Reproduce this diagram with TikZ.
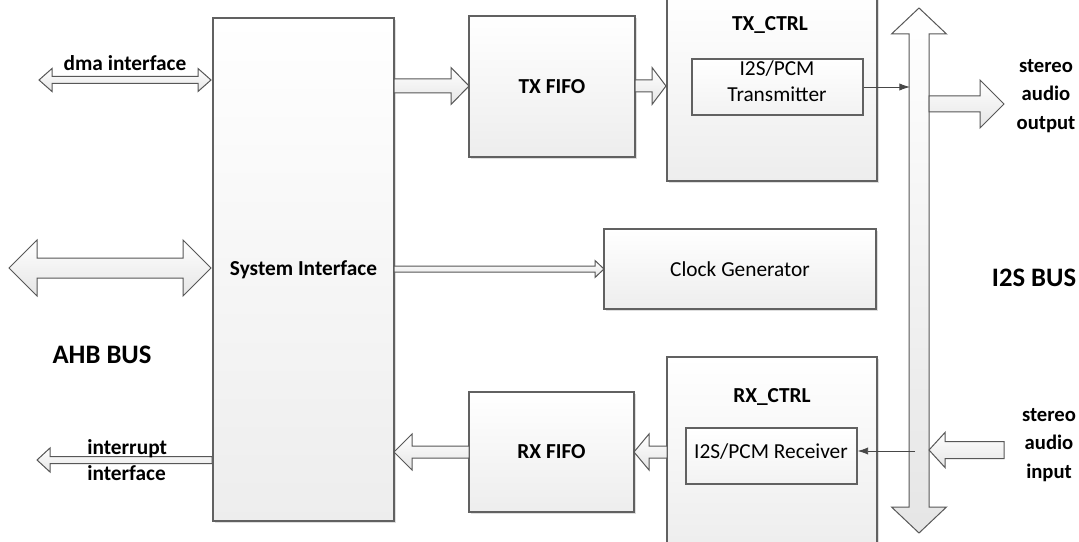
\documentclass[tikz,border=0pt]{standalone}
\usepackage{fontspec}
\setmainfont{Carlito}
\usetikzlibrary{fit,shadows,arrows.meta}
\newcommand{\BArrow}[6]{% tail x, tip x, y, shaft half, head half, head length (signed)
\draw[barrow] (#1,{#3-#4}) -- ({#2-(#6)},{#3-#4}) -- ({#2-(#6)},{#3-#5}) -- (#2,#3) -- ({#2-(#6)},{#3+#5}) -- ({#2-(#6)},{#3+#4}) -- (#1,{#3+#4}) -- cycle;}
\newcommand{\BDArrow}[6]{% left tip x, right tip x, y, shaft half, head half, head length
\draw[barrow] (#1,#3) -- ({#1+#6},{#3-#5}) -- ({#1+#6},{#3-#4}) -- ({#2-#6},{#3-#4}) -- ({#2-#6},{#3-#5}) -- (#2,#3) -- ({#2-#6},{#3+#5}) -- ({#2-#6},{#3+#4}) -- ({#1+#6},{#3+#4}) -- ({#1+#6},{#3+#5}) -- cycle;}
\newcommand{\BVArrow}[6]{% x, top tip y, bottom tip y, shaft half, head half, head length
\draw[barrow] (#1,#2) -- ({#1+#5},{#2+#6}) -- ({#1+#4},{#2+#6}) -- ({#1+#4},{#3-#6}) -- ({#1+#5},{#3-#6}) -- (#1,#3) -- ({#1-#5},{#3-#6}) -- ({#1-#4},{#3-#6}) -- ({#1-#4},{#2+#6}) -- ({#1-#5},{#2+#6}) -- cycle;}
\begin{document}
\begin{tikzpicture}[x=0.75pt,y=-0.75pt,
 box/.style={draw=black!62,line width=0.9pt,top color=white,bottom color=black!7,inner sep=0pt,
   drop shadow={shadow xshift=1.8pt,shadow yshift=-1.8pt,fill=black!13,opacity=1}},
 plainbox/.style={draw=black!62,line width=0.8pt,top color=white,bottom color=black!5,inner sep=0pt},
 barrow/.style={draw=black!66,line width=0.75pt,top color=white,bottom color=black!10},
 lbl/.style={font=\fontsize{16}{21}\selectfont\bfseries,align=center,inner sep=0pt},
 txt/.style={font=\fontsize{16}{19.5}\selectfont,align=center,inner sep=0pt},
 big/.style={font=\fontsize{20}{24}\selectfont\bfseries,inner sep=0pt},
 side/.style={lbl,font=\fontsize{15.5}{21.5}\selectfont\bfseries},
 wire/.style={draw=black!72,line width=0.7pt,-{Latex[length=8pt,width=5.5pt]}}]
\useasboundingbox (0,0) rectangle (1079,542);
\fill[white] (0,0) rectangle (1079,542);

% blocks
\path (213,18) coordinate (sysA) (394,521) coordinate (sysB);
\node[box,fit=(sysA)(sysB)] (sys) {};
\node[lbl] (sysT) at (sys.center) {System Interface};

\path (469,16) coordinate (txfA) (635,157) coordinate (txfB);
\node[box,fit=(txfA)(txfB)] (txf) {};
\node[lbl] (txfT) at (txf.center) {TX FIFO};

\path (667,-6) coordinate (txcA) (877,181) coordinate (txcB);
\node[box,fit=(txcA)(txcB)] (txc) {};
\node[lbl] (txcT) at (770,25) {TX\_CTRL};

\path (692,59) coordinate (txmA) (863,115) coordinate (txmB);
\node[plainbox,fit=(txmA)(txmB)] (txm) {};
\node[txt] (txmT) at (777,81) {I2S/PCM\\Transmitter};

\path (604,229) coordinate (clkA) (876,309) coordinate (clkB);
\node[box,fit=(clkA)(clkB)] (clk) {};
\node[txt] (clkT) at (clk.center) {Clock Generator};

\path (667,357) coordinate (rxcA) (877,550) coordinate (rxcB);
\node[box,fit=(rxcA)(rxcB)] (rxc) {};
\node[lbl] (rxcT) at (772,397) {RX\_CTRL};

\path (686,428) coordinate (rxmA) (857,484) coordinate (rxmB);
\node[plainbox,fit=(rxmA)(rxmB)] (rxm) {};
\node[txt] (rxmT) at (771,452) {I2S/PCM Receiver};

\path (469,392) coordinate (rxfA) (634,512) coordinate (rxfB);
\node[box,fit=(rxfA)(rxfB)] (rxf) {};
\node[lbl] (rxfT) at (rxf.center) {RX FIFO};

% block arrows
\BDArrow{39}{211}{80}{3.5}{11.5}{13}
\BDArrow{9}{211}{268}{10}{28}{28}
\BArrow{212}{37}{460}{3.5}{12}{-13}
\BArrow{394}{469}{86}{7}{18.5}{18}
\BArrow{635}{666}{86}{6}{18.5}{14}
\BArrow{394}{604}{269}{3}{8.5}{9}
\BArrow{667}{634}{452}{6}{18}{-15}
\BArrow{469}{394}{452}{6}{18}{-18}
\BVArrow{919}{8}{533}{10}{27.5}{26}
\BArrow{929}{1004}{104}{8}{24}{24}
\BArrow{1004}{929}{450}{8.5}{17.5}{-16}

% thin connectors
\coordinate (busT) at (910,87);
\coordinate (busR) at (915,451);
\draw[wire] (txm.east) -- (txm.east -| busT);
\draw[wire] (busR) -- (busR -| rxm.east);

% labels
\node[lbl] (dmaT) at (125,63) {dma interface};
\node[big] (ahbT) at (102,355) {AHB BUS};
\node[lbl,align=left,anchor=west,font=\fontsize{16}{19.5}\selectfont\bfseries] (irqT) at (87,460) {interrupt\\interface};
\node[side] (outT) at (1046,96) {stereo\\audio\\output};
\node[side] (inT) at (1049,445) {stereo\\audio\\input};
\node[big] (i2sT) at (1034,278) {I2S BUS};
\end{tikzpicture}
\end{document}
